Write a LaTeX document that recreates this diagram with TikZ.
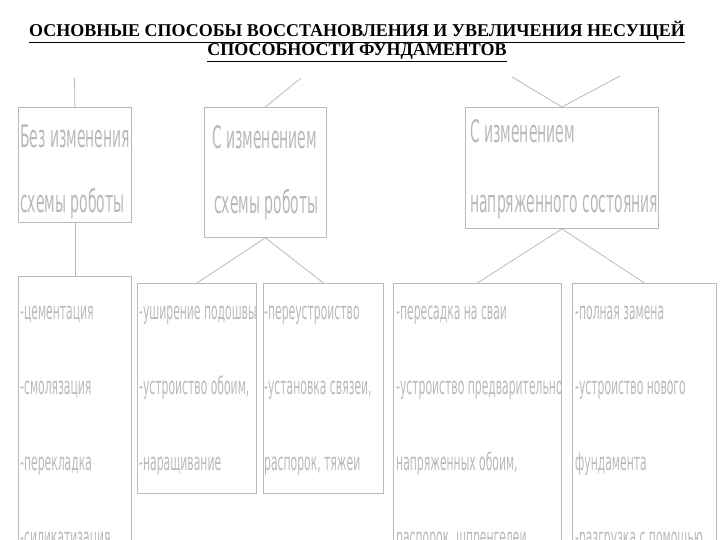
\documentclass[tikz,border=0pt]{standalone}
\usepackage{fontspec}
\setmainfont{Liberation Serif}
\newfontfamily\cadfont{DejaVu Sans}[FakeStretch=0.45]
\usetikzlibrary{positioning}

\begin{document}
\begin{tikzpicture}[x=1pt,y=-1pt,
	box/.style={rectangle, draw=gray!55, line width=0.8pt, anchor=north west, inner sep=0pt},
	bigtxt/.style={anchor=base west, inner sep=0pt, text=gray!55, font=\cadfont\fontsize{31}{31}\selectfont},
	smalltxt/.style={anchor=base west, inner sep=0pt, text=gray!55, font=\cadfont\fontsize{24}{24}\selectfont},
	heading/.style={anchor=base, inner sep=0pt, font=\bfseries\fontsize{18}{18}\selectfont},
	link/.style={draw=gray!55, line width=0.8pt}
	]

	\useasboundingbox (0,0) rectangle (720,540);
	\clip (0,0) rectangle (720,540);

	% title
	\node (title1) [heading] at (357,37) {\underline{ОСНОВНЫЕ СПОСОБЫ ВОССТАНОВЛЕНИЯ И УВЕЛИЧЕНИЯ НЕСУЩЕЙ}};
	\node (title2) [heading] at (357,56) {\underline{СПОСОБНОСТИ ФУНДАМЕНТОВ}};

	% upper boxes
	\node (box1) [box, minimum width=113pt, minimum height=115pt] at (18,107) {};
	\node (box2) [box, minimum width=122pt, minimum height=130pt] at (204,107) {};
	\node (box3) [box, minimum width=193pt, minimum height=121pt] at (465,107) {};

	\node (t1a) [bigtxt] at (20,148) {Без изменения};
	\node (t1b) [bigtxt] at (20,213) {схемы роботы};
	\node (t2a) [bigtxt] at (212,149) {С изменением};
	\node (t2b) [bigtxt] at (214,214) {схемы роботы};
	\node (t3a) [bigtxt] at (470,143) {С изменением};
	\node (t3b) [bigtxt] at (470,213) {напряженного состояния};

	% lower boxes
	\node (box4) [box, minimum width=113pt, minimum height=290pt] at (18,276) {};
	\node (box5) [box, minimum width=119pt, minimum height=210pt] at (137,283) {};
	\node (box6) [box, minimum width=120pt, minimum height=210pt] at (263,283) {};
	\node (box7) [box, minimum width=168pt, minimum height=290pt] at (393,283) {};
	\node (box8) [box, minimum width=144pt, minimum height=290pt] at (572,283) {};

	\node (t4a) [smalltxt] at (20,319) {-цементация};
	\node (t4b) [smalltxt] at (20,394) {-смолязация};
	\node (t4c) [smalltxt] at (20,470) {-перекладка};
	\node (t4d) [smalltxt] at (20,545) {-силикатизация};

	\node (t5a) [smalltxt] at (139,319) {-уширение подошвы};
	\node (t5b) [smalltxt] at (139,394) {-устроиство обоим,};
	\node (t5c) [smalltxt] at (139,470) {-наращивание};

	\node (t6a) [smalltxt] at (264,319) {-переустроиство};
	\node (t6b) [smalltxt] at (264,394) {-установка связеи,};
	\node (t6c) [smalltxt] at (264,470) {распорок, тяжеи};

	\node (t7a) [smalltxt] at (396,319) {-пересадка на сваи};
	\node (t7b) [smalltxt] at (396,394) {-устроиство предварительно};
	\node (t7c) [smalltxt] at (396,470) {напряженных обоим,};
	\node (t7d) [smalltxt] at (396,545) {распорок, шпренгелеи};

	\node (t8a) [smalltxt] at (575,319) {-полная замена};
	\node (t8b) [smalltxt] at (575,394) {-устроиство нового};
	\node (t8c) [smalltxt] at (575,470) {фундамента};
	\node (t8d) [smalltxt] at (575,545) {-разгрузка с помощью};

	% connectors
	\coordinate (in1) at (74.5,78);
	\coordinate (in2) at (301,78);
	\coordinate (in3a) at (512,77);
	\coordinate (in3b) at (620,76);

	\draw [link] (in1) -- (box1.north);
	\draw [link] (in2) -- (box2.north);
	\draw [link] (in3a) -- (box3.north);
	\draw [link] (in3b) -- (box3.north);
	\draw [link] (box1.south) -- (box4.north);
	\draw [link] (box2.south) -- (box5.north);
	\draw [link] (box2.south) -- (box6.north);
	\draw [link] (box3.south) -- (box7.north);
	\draw [link] (box3.south) -- (box8.north);

\end{tikzpicture}
\end{document}
